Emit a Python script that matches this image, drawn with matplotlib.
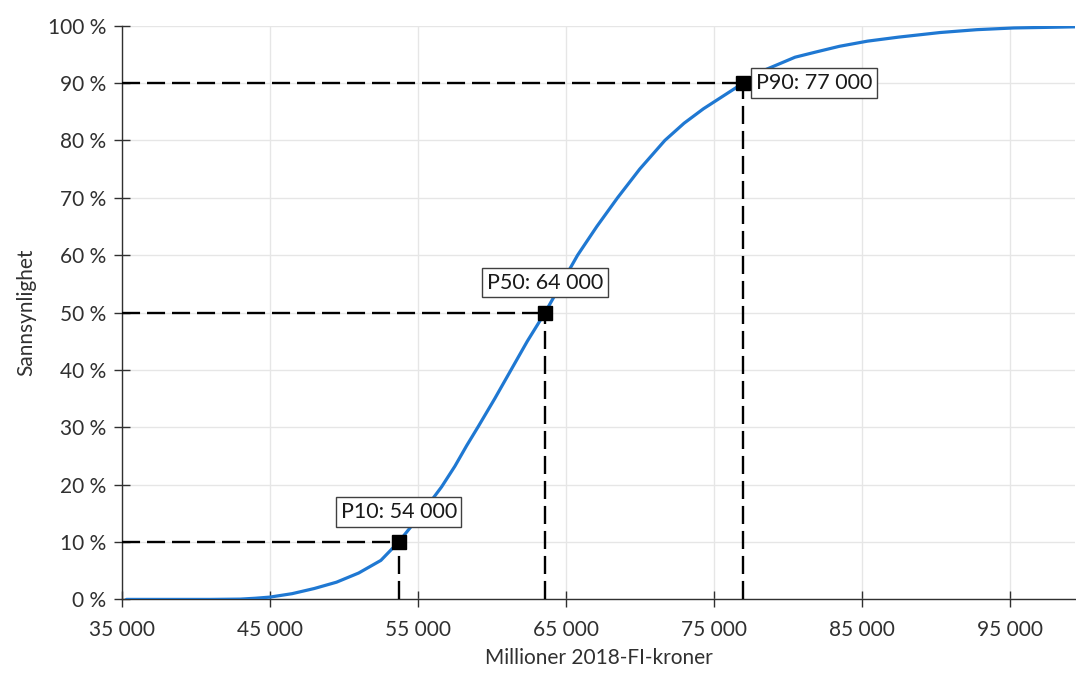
import matplotlib
matplotlib.use("Agg")
import matplotlib.pyplot as plt
from matplotlib.ticker import FuncFormatter, MultipleLocator

plt.rcParams['font.family'] = ['Lato', 'DejaVu Sans']
plt.rcParams['lines.scale_dashes'] = False

# Cumulative distribution (value in MNOK, probability in %)
values = [35300, 38000, 41000, 43000, 44000, 45000, 46500, 48000, 49500, 51000,
          52500, 53700, 54700, 55700, 56600, 57500, 58300, 59100, 60200, 61300,
          62400, 63600, 64700, 65800, 67100, 68500, 70000, 71700, 73000, 74300,
          75500, 77000, 78200, 79400, 80500, 81900, 83500, 85400, 87500, 90300,
          92800, 95300, 97500, 99500]
probs = [0.0, 0.0, 0.0, 0.05, 0.2, 0.4, 1.0, 1.9, 3.0, 4.6,
         6.8, 10.0, 13.2, 16.5, 19.6, 23.2, 26.8, 30.2, 35.0, 40.0,
         45.0, 50.0, 55.0, 60.0, 65.0, 70.0, 75.0, 80.0, 83.0, 85.5,
         87.5, 90.0, 92.0, 93.3, 94.5, 95.4, 96.4, 97.3, 98.0, 98.8,
         99.3, 99.6, 99.7, 99.8]

pct_names = ['P10', 'P50', 'P90']
pct_levels = [10, 50, 90]
pct_values = [53700, 63600, 77000]
pct_labels = ['P10: 54 000', 'P50: 64 000', 'P90: 77 000']

x_ticks = [35000, 45000, 55000, 65000, 75000, 85000, 95000]

fig = plt.figure(figsize=(10.76, 6.75), dpi=100)
ax = fig.add_axes([0.1134, 0.112, 0.886, 0.85])

ax.plot(values, probs, color='#1f78d2', lw=2.3, zorder=3, solid_capstyle='round',
        solid_joinstyle='round')

for name, lvl, v, lab in zip(pct_names, pct_levels, pct_values, pct_labels):
    ax.plot([35000, v], [lvl, lvl], color='black', lw=1.7, dashes=(13, 5), zorder=4)
    ax.plot([v, v], [0, lvl], color='black', lw=1.7, dashes=(13, 5), zorder=4)
    ax.plot([v], [lvl], marker='s', color='black', ms=10, zorder=5)
    if name == 'P90':
        ax.annotate(lab, (v, lvl), xytext=(9, 0), textcoords='offset points',
                    ha='left', va='center', fontsize=15.5, color='#1a1a1a',
                    bbox=dict(boxstyle='square,pad=0.22', fc='white', ec='#404040', lw=1))
    else:
        ax.annotate(lab, (v, lvl), xytext=(0, 21.5), textcoords='offset points',
                    ha='center', va='center', fontsize=15.5, color='#1a1a1a',
                    bbox=dict(boxstyle='square,pad=0.22', fc='white', ec='#404040', lw=1))

ax.set_xlim(35000, 99450)
ax.set_ylim(0, 100)
ax.set_xticks(x_ticks)
ax.yaxis.set_major_locator(MultipleLocator(10))
ax.xaxis.set_major_formatter(FuncFormatter(lambda v, p: f"{int(v):,}".replace(',', ' ')))
ax.yaxis.set_major_formatter(FuncFormatter(lambda v, p: f"{int(round(v))} %"))

ax.grid(True, color='#e6e6e6', lw=1)
ax.set_axisbelow(True)
for s in ['top', 'right']:
    ax.spines[s].set_visible(False)
for s in ['left', 'bottom']:
    ax.spines[s].set_color('#303030')
    ax.spines[s].set_linewidth(1)
ax.tick_params(axis='both', direction='inout', length=11, width=1, color='#303030',
               labelsize=15, labelcolor='#303030')
ax.tick_params(axis='x', pad=9)
ax.tick_params(axis='y', pad=6)

ax.set_xlabel('Millioner 2018-FI-kroner', fontsize=15, color='#303030', labelpad=6)
ax.set_ylabel('Sannsynlighet', fontsize=15, color='#303030', labelpad=8)

fig.savefig('out.png', dpi=100)
